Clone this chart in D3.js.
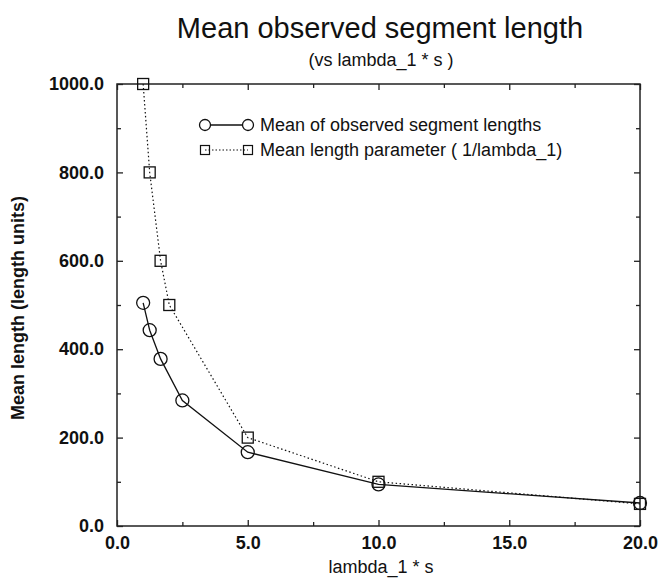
<!DOCTYPE html>
<html>
<head>
<meta charset="utf-8">
<script src="https://cdn.jsdelivr.net/npm/d3@7"></script>
<style>
  body { margin: 0; background: #fff; }
  text { font-family: "Liberation Sans", Arial, Helvetica, sans-serif; fill: #111; }
</style>
</head>
<body>
<script>
// data
const observedX = [1, 1.25, 1.667, 2.5, 5, 10, 20];
const observedY = [505, 443, 378, 284, 167, 94, 52];
const paramX = [1, 1.25, 1.667, 2, 5, 10, 20];
const paramY = [1000, 800, 600, 500, 200, 100, 50];
const xMajor = [0, 5, 10, 15, 20];
const xMinor = [2.5, 7.5, 12.5, 17.5];
const yMajor = [0, 200, 400, 600, 800, 1000];
const yMinor = [100, 300, 500, 700, 900];
const legendLabels = ["Mean of observed segment lengths", "Mean length parameter ( 1/lambda_1)"];

const width = 660, height = 580;
const plotLeft = 117, plotRight = 640, plotTop = 84, plotBottom = 526;

let svg = d3.select("body").append("svg")
    .attr("width", width)
    .attr("height", height);

let x = d3.scaleLinear().domain([0, 20]).range([plotLeft, plotRight]);
let y = d3.scaleLinear().domain([0, 1000]).range([plotBottom, plotTop]);

// titles
svg.append("text")
    .attr("x", 380).attr("y", 38)
    .attr("text-anchor", "middle")
    .style("font-size", "29px")
    .text("Mean observed segment length");

svg.append("text")
    .attr("x", 381).attr("y", 66)
    .attr("text-anchor", "middle")
    .style("font-size", "18px")
    .text("(vs lambda_1 * s )");

// frame
svg.append("rect")
    .attr("x", plotLeft).attr("y", plotTop)
    .attr("width", plotRight - plotLeft).attr("height", plotBottom - plotTop)
    .attr("fill", "none")
    .attr("stroke", "#222")
    .attr("stroke-width", 1.5);

// axes, ticks pointing inward
function addAxis(axis, tx, ty, labels) {
    let g = svg.append("g")
        .attr("transform", `translate(${tx},${ty})`)
        .call(axis);
    g.select(".domain").remove();
    g.selectAll("line").attr("stroke", "#222").attr("stroke-width", 1.3);
    if (labels) {
        g.selectAll("text")
            .style("font-size", "18px")
            .style("font-weight", "bold")
            .style("font-family", '"Liberation Sans", Arial, Helvetica, sans-serif')
            .attr("fill", "#111");
    } else {
        g.selectAll("text").remove();
    }
}

const fmt = d3.format(".1f");
addAxis(d3.axisBottom(x).tickValues(xMajor).tickSize(-6).tickPadding(10).tickFormat(fmt), 0, plotBottom, true);
addAxis(d3.axisBottom(x).tickValues(xMinor).tickSize(-4), 0, plotBottom, false);
addAxis(d3.axisTop(x).tickValues(xMajor).tickSize(-6), 0, plotTop, false);
addAxis(d3.axisTop(x).tickValues(xMinor).tickSize(-4), 0, plotTop, false);
addAxis(d3.axisLeft(y).tickValues(yMajor).tickSize(-6).tickPadding(13).tickFormat(fmt), plotLeft, 0, true);
addAxis(d3.axisLeft(y).tickValues(yMinor).tickSize(-4), plotLeft, 0, false);
addAxis(d3.axisRight(y).tickValues(yMajor).tickSize(-6), plotRight, 0, false);
addAxis(d3.axisRight(y).tickValues(yMinor).tickSize(-4), plotRight, 0, false);

// axis titles
svg.append("text")
    .attr("x", 381).attr("y", 573)
    .attr("text-anchor", "middle")
    .style("font-size", "18px")
    .text("lambda_1 * s");

svg.append("text")
    .attr("transform", "translate(24,308) rotate(-90)")
    .attr("text-anchor", "middle")
    .style("font-size", "18px")
    .style("font-weight", "bold")
    .text("Mean length (length units)");

// series
let observed = observedX.map((d, i) => ({x: d, y: observedY[i]}));
let param = paramX.map((d, i) => ({x: d, y: paramY[i]}));

let line = d3.line().x(d => x(d.x)).y(d => y(d.y));

svg.append("path")
    .datum(param)
    .attr("d", line)
    .attr("fill", "none")
    .attr("stroke", "#111")
    .attr("stroke-width", 1.2)
    .attr("stroke-dasharray", "1.5,2.5");

svg.append("path")
    .datum(observed)
    .attr("d", line)
    .attr("fill", "none")
    .attr("stroke", "#111")
    .attr("stroke-width", 1.3);

svg.append("g")
    .selectAll("circle")
    .data(observed)
    .enter().append("circle")
    .attr("cx", d => x(d.x))
    .attr("cy", d => y(d.y))
    .attr("r", 6.5)
    .attr("fill", "none")
    .attr("stroke", "#111")
    .attr("stroke-width", 1.3);

svg.append("g")
    .selectAll("rect")
    .data(param)
    .enter().append("rect")
    .attr("x", d => x(d.x) - 5.5)
    .attr("y", d => y(d.y) - 5.5)
    .attr("width", 11)
    .attr("height", 11)
    .attr("fill", "none")
    .attr("stroke", "#111")
    .attr("stroke-width", 1.3);

// legend
let legend = svg.append("g");
const lx1 = 205, lx2 = 248, ly = [125, 150];

legend.append("line")
    .attr("x1", lx1).attr("x2", lx2).attr("y1", ly[0]).attr("y2", ly[0])
    .attr("stroke", "#111").attr("stroke-width", 1.3);
[lx1, lx2].forEach(cx => {
    legend.append("circle")
        .attr("cx", cx).attr("cy", ly[0]).attr("r", 5.5)
        .attr("fill", "#fff").attr("stroke", "#111").attr("stroke-width", 1.3);
});

legend.append("line")
    .attr("x1", lx1).attr("x2", lx2).attr("y1", ly[1]).attr("y2", ly[1])
    .attr("stroke", "#111").attr("stroke-width", 1.1)
    .attr("stroke-dasharray", "1.5,2");
[lx1, lx2].forEach(cx => {
    legend.append("rect")
        .attr("x", cx - 4.5).attr("y", ly[1] - 4.5)
        .attr("width", 9).attr("height", 9)
        .attr("fill", "none").attr("stroke", "#111").attr("stroke-width", 1.2);
});

legendLabels.forEach((t, i) => {
    legend.append("text")
        .attr("x", 260).attr("y", ly[i])
        .attr("dy", "0.36em")
        .style("font-size", "18px")
        .text(t);
});
</script>
</body>
</html>
